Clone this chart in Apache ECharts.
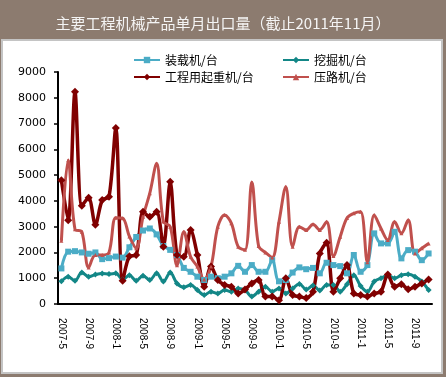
<!DOCTYPE html>
<html>
<head>
<meta charset="utf-8">
<script src="https://cdn.jsdelivr.net/npm/echarts@6/dist/echarts.min.js"></script>
<style>
  html, body { margin: 0; padding: 0; background: #8c7b6f; }
  #main { width: 446px; height: 377px; }
</style>
</head>
<body>
<div id="main"></div>
<script>
// 月份
var months = ['2007-5','2007-6','2007-7','2007-8','2007-9','2007-10','2007-11','2007-12',
  '2008-1','2008-2','2008-3','2008-4','2008-5','2008-6','2008-7','2008-8','2008-9','2008-10','2008-11','2008-12',
  '2009-1','2009-2','2009-3','2009-4','2009-5','2009-6','2009-7','2009-8','2009-9','2009-10','2009-11','2009-12',
  '2010-1','2010-2','2010-3','2010-4','2010-5','2010-6','2010-7','2010-8','2010-9','2010-10','2010-11','2010-12',
  '2011-1','2011-2','2011-3','2011-4','2011-5','2011-6','2011-7','2011-8','2011-9','2011-10','2011-11'];

// 装载机/台
var loader = [1380,2030,2050,2000,1950,2000,1740,1780,1840,1800,2200,2600,2850,2930,2700,2250,2100,1900,1400,1250,
  1060,930,1060,1000,1060,1190,1480,1250,1510,1250,1250,1700,880,930,1220,1420,1350,1400,1190,1600,
  1510,1470,1190,1900,1250,1510,2740,2350,2350,2800,1770,2090,2030,1700,1960];
// 挖掘机/台
var excavator = [880,1060,900,1220,1060,1140,1180,1160,1190,950,1120,900,1100,930,1190,870,1220,800,650,740,
  540,350,480,410,540,480,600,540,290,480,670,480,600,410,600,780,560,720,520,740,
  740,480,770,1120,700,480,870,1000,1120,1000,1120,1150,1060,870,540];
// 工程用起重机/台
var crane = [4800,3250,8230,3810,4120,3070,4030,4160,6830,900,1850,1900,3580,3380,3580,2220,4740,1900,1830,2870,
  1900,670,1450,930,740,670,410,560,800,930,290,290,150,1000,350,290,230,480,1960,2380,
  480,1000,1510,410,350,290,410,480,1140,670,770,570,670,800,950];
// 压路机/台
var roller = [2450,5580,2900,2800,1420,1900,1900,2000,3350,3330,2620,2160,3380,4300,5450,3200,3000,1500,2800,1830,
  1450,950,1450,3000,3450,3130,2220,2100,4720,2250,2000,1800,3190,4550,2220,3000,2870,3090,2870,3190,
  1860,2610,3340,3520,3580,1620,3450,2930,2480,3190,2740,3260,1960,2160,2350];

var yMin = 0, yMax = 9000, yStep = 1000;

var chart = echarts.init(document.getElementById('main'));
var legendText = { fontSize: 12, color: '#000', fontFamily: 'Noto Sans CJK SC' };

chart.setOption({
  backgroundColor: '#8c7b6f',
  animation: false,
  title: {
    text: '主要工程机械产品单月出口量（截止2011年11月）',
    left: 'center',
    top: 11,
    textStyle: { color: '#f4f4f4', fontSize: 15, fontWeight: 'normal', fontFamily: 'Noto Sans CJK SC' }
  },
  graphic: [{
    type: 'rect',
    shape: { x: 2, y: 40, width: 440, height: 333 },
    style: { fill: '#fff', stroke: '#c4c4c4', lineWidth: 2 },
    z: -10
  }],
  legend: [
    { data: ['装载机/台'], left: 128, top: 49, itemWidth: 26, itemHeight: 8, textStyle: legendText },
    { data: ['挖掘机/台'], left: 277, top: 49, itemWidth: 26, itemHeight: 8, textStyle: legendText },
    { data: ['工程用起重机/台'], left: 128, top: 66, itemWidth: 26, itemHeight: 8, textStyle: legendText },
    { data: ['压路机/台'], left: 277, top: 66, itemWidth: 26, itemHeight: 8, textStyle: legendText }
  ],
  grid: { left: 58, right: 14, top: 72, bottom: 73 },
  xAxis: {
    type: 'category',
    data: months,
    boundaryGap: true,
    axisLine: { lineStyle: { color: '#000', width: 2 } },
    axisTick: { inside: true, length: 4, interval: 0, lineStyle: { color: '#000', width: 1.5 } },
    axisLabel: {
      interval: 3,
      rotate: -90,
      margin: 14,
      fontSize: 10,
      color: '#000',
      fontFamily: 'Liberation Sans'
    },
    splitLine: { show: false }
  },
  yAxis: {
    type: 'value',
    min: yMin,
    max: yMax,
    interval: yStep,
    axisLine: { show: true, lineStyle: { color: '#000', width: 2 } },
    axisTick: { show: true, length: 4, lineStyle: { color: '#000', width: 1.5 } },
    axisLabel: {
      fontSize: 11, color: '#000', margin: 12, fontFamily: 'DejaVu Sans',
      formatter: function (v) { return String(v); }
    },
    splitLine: { show: false }
  },
  series: [
    {
      name: '装载机/台', type: 'line', data: loader, smooth: 0.35,
      symbol: 'rect', symbolSize: 6, showAllSymbol: true,
      itemStyle: { color: '#4bacc6' },
      lineStyle: { color: '#4bacc6', width: 3 }
    },
    {
      name: '挖掘机/台', type: 'line', data: excavator, smooth: 0.35,
      symbol: 'diamond', symbolSize: 6, showAllSymbol: true,
      itemStyle: { color: '#138787' },
      lineStyle: { color: '#138787', width: 3 }
    },
    {
      name: '工程用起重机/台', type: 'line', data: crane, smooth: 0.3,
      symbol: 'diamond', symbolSize: 8, showAllSymbol: true,
      itemStyle: { color: '#800000' },
      lineStyle: { color: '#800000', width: 3.5 }
    },
    {
      name: '压路机/台', type: 'line', data: roller, smooth: 0.35,
      symbol: 'triangle', symbolSize: 4, showAllSymbol: true,
      itemStyle: { color: '#c0504d' },
      lineStyle: { color: '#c0504d', width: 3 }
    }
  ]
});
</script>
</body>
</html>
